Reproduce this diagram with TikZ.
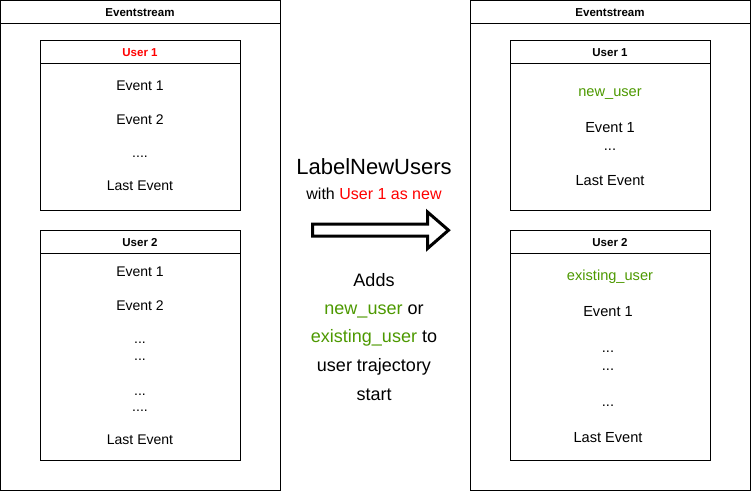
\documentclass[tikz,border=0pt]{standalone}
\usepackage{fontspec}
\setmainfont{Liberation Sans}
\definecolor{myred}{HTML}{FF0000}
\definecolor{mygreen}{HTML}{4D9900}
\begin{document}
\begin{tikzpicture}[x=1pt,y=-1pt,
  frame/.style={draw=black,line width=1pt,inner sep=0pt,fill=white},
  ttl/.style={anchor=base,inner sep=0pt,font=\fontsize{11.5}{13}\selectfont\bfseries},
  evl/.style={anchor=base,inner sep=0pt,font=\fontsize{14}{16}\selectfont},
  evr/.style={anchor=base,inner sep=0pt,font=\fontsize{14.6}{17}\selectfont},
  mid/.style={anchor=base,inner sep=0pt,font=\fontsize{18}{21}\selectfont}]
\useasboundingbox (0,0) rectangle (751,491);
\fill[white] (0,0) rectangle (751,491);
% left side
\node[frame,minimum width=279.5pt,minimum height=489.5pt] (lo) at (140.25,245.25) {};
\draw[line width=1pt] (lo.west |- 0,23.5) -- (lo.east |- 0,23.5);
\node[ttl] (lot) at (140,16.7) {Eventstream};
\node[frame,minimum width=200pt,minimum height=170pt] (lu1) at (140.5,125.5) {};
\draw[line width=1pt] (lu1.west |- 0,63.5) -- (lu1.east |- 0,63.5);
\node[ttl,text=myred] (lu1t) at (140,56.7) {User 1};
\node[evl] (la1) at (140,90.5) {Event 1};
\node[evl] (la2) at (140,124) {Event 2};
\node[evl] (la3) at (140,157) {....};
\node[evl] (la4) at (140,190.5) {Last Event};
\node[frame,minimum width=200pt,minimum height=230pt] (lu2) at (140.5,345.5) {};
\draw[line width=1pt] (lu2.west |- 0,253.5) -- (lu2.east |- 0,253.5);
\node[ttl] (lu2t) at (140,246.7) {User 2};
\node[evl] (lb1) at (140,276.7) {Event 1};
\node[evl] (lb2) at (140,310) {Event 2};
\node[evl] (lb3) at (140,343.3) {...};
\node[evl] (lb4) at (140,360.7) {...};
\node[evl] (lb5) at (140,395) {...};
\node[evl] (lb6) at (140,411.7) {....};
\node[evl] (lb7) at (140,444) {Last Event};
% right side
\node[frame,minimum width=279.5pt,minimum height=489.5pt] (ro) at (610.25,245.25) {};
\draw[line width=1pt] (ro.west |- 0,23.5) -- (ro.east |- 0,23.5);
\node[ttl] (rot) at (610,16.7) {Eventstream};
\node[frame,minimum width=200pt,minimum height=170pt] (ru1) at (610.5,125.5) {};
\draw[line width=1pt] (ru1.west |- 0,63.5) -- (ru1.east |- 0,63.5);
\node[ttl] (ru1t) at (610,56.7) {User 1};
\node[evr,text=mygreen] (ra0) at (610,96) {new\_user};
\node[evr] (ra1) at (610,132) {Event 1};
\node[evr] (ra2) at (610,150) {...};
\node[evr] (ra3) at (610,185.7) {Last Event};
\node[frame,minimum width=200pt,minimum height=230pt] (ru2) at (610.5,345.5) {};
\draw[line width=1pt] (ru2.west |- 0,253.5) -- (ru2.east |- 0,253.5);
\node[ttl] (ru2t) at (610,246.7) {User 2};
\node[evr,text=mygreen] (rb0) at (610,280) {existing\_user};
\node[evr] (rb1) at (608,316) {Event 1};
\node[evr] (rb2) at (608,352.7) {...};
\node[evr] (rb3) at (608,370.7) {...};
\node[evr] (rb4) at (608,406.7) {...};
\node[evr] (rb5) at (608,442.3) {Last Event};
% middle
\node[anchor=base,inner sep=0pt,font=\fontsize{22}{26}\selectfont] (m1) at (374,174.3) {LabelNewUsers};
\node[anchor=base,inner sep=0pt,font=\fontsize{16}{19}\selectfont] (m2) at (374,199.3) {with \textcolor{myred}{User 1 as new}};
\draw[line width=3pt,line join=miter,fill=white] (312.5,224.2) -- (427.5,224.2) -- (427.5,212) -- (448.5,230.2) -- (427.5,248.5) -- (427.5,236.2) -- (312.5,236.2) -- cycle;
\node[mid] (m3) at (374,286.7) {Adds};
\node[mid] (m4) at (374,314.3) {\textcolor{mygreen}{new\_user} or};
\node[mid] (m5) at (374,342.7) {\textcolor{mygreen}{existing\_user} to};
\node[mid] (m6) at (374,371.7) {user trajectory};
\node[mid] (m7) at (374,400) {start};
\end{tikzpicture}
\end{document}
